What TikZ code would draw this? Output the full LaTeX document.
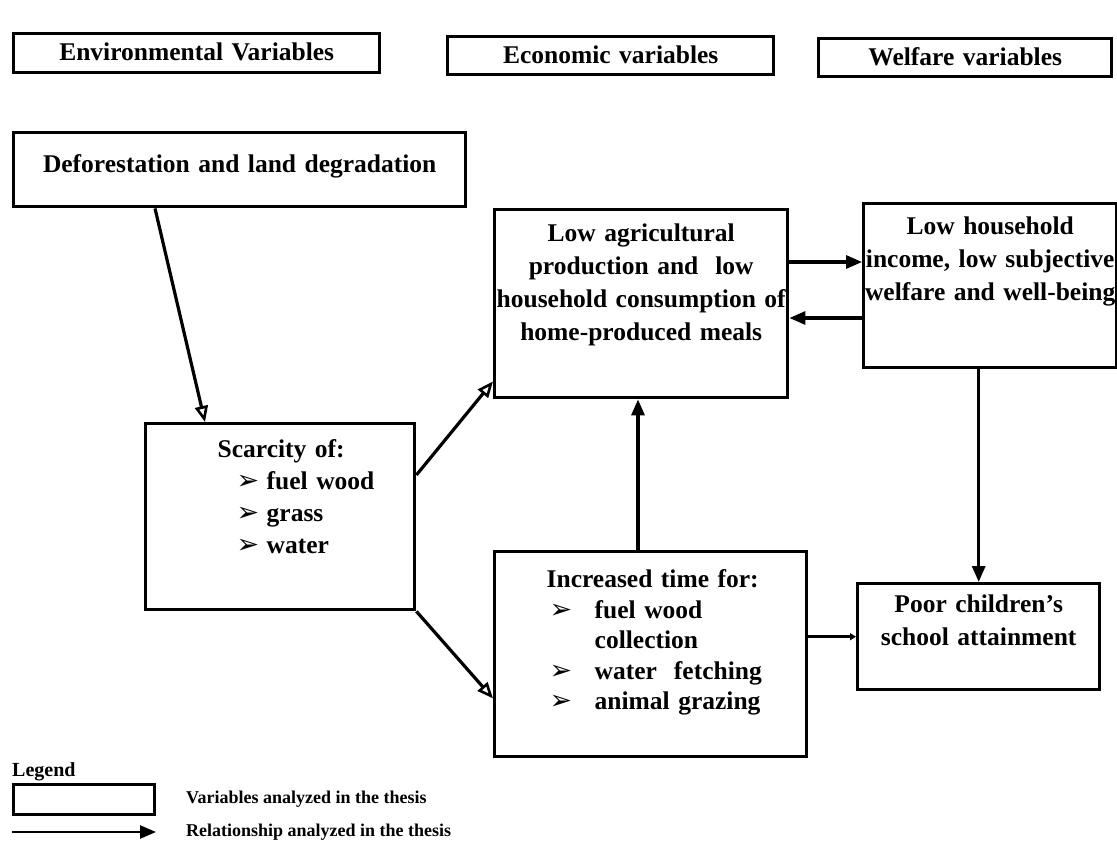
\documentclass[tikz,border=0pt]{standalone}
\usepackage{fontspec}
\setmainfont{Liberation Serif}
\newfontfamily\dingfont{DejaVu Sans}
\usepackage{tikz}
\usetikzlibrary{positioning}
\usetikzlibrary{calc}
\usetikzlibrary{arrows.meta}

\newcommand{\bul}[1]{\makebox[#1][l]{\dingfont\fontsize{27}{27}\selectfont ➢}}

\tikzset{
  box/.style={draw, line width=3.4pt, inner sep=0pt, anchor=north west, align=center,
    font=\bfseries\fontsize{25.5}{33}\selectfont},
  flow/.style={line width=3.2pt, -{Triangle[length=16pt,width=13pt]}},
  flowo/.style={line width=3.2pt, -{Triangle[open,length=16pt,width=13pt,line width=2.6pt]}},
  legtext/.style={inner sep=0pt, font=\bfseries\fontsize{18}{18}\selectfont},
}

\begin{document}
\begin{tikzpicture}[x=1pt,y=-1pt]
  \useasboundingbox (0,0) rectangle (1117,851);

  \node[box, text width=366pt, text height=27pt, text depth=12pt] (env) at (12,32) {Environmental Variables};
  \node[box, text width=326pt, text height=27pt, text depth=11pt] (econ) at (446,35) {Economic variables};
  \node[box, text width=293pt, text height=27pt, text depth=11pt] (welf) at (817,37) {Welfare variables};

  \node[box, text width=452pt, text height=40pt, text depth=34pt] (defo) at (12,131) {Deforestation and land degradation};
  \node[box, text width=293pt, text height=32pt, text depth=156pt] (lowagr) at (493,208)
    {Low agricultural\\production and\ \ low\\household consumption of\\home-produced meals};
  \node[box, text width=253pt, text height=31pt, text depth=133pt] (lowhh) at (862,202)
    {Low household\\income, low subjective\\welfare and well-being};
  \node[box, align=left, text width=269pt, text height=34pt, text depth=152pt,
    font=\bfseries\fontsize{25.5}{32}\selectfont] (scarcity) at (144,422)
    {\hspace*{72pt}Scarcity of:\\
     \hspace*{91pt}\bul{30pt}fuel wood\\
     \hspace*{91pt}\bul{30pt}grass\\
     \hspace*{91pt}\bul{30pt}water};
  \node[box, align=left, text width=312pt, text height=36pt, text depth=169pt,
    font=\bfseries\fontsize{25.5}{30.5}\selectfont] (increased) at (493,550)
    {\hspace*{52pt}Increased time for:\\
     \hspace*{55pt}\bul{45pt}fuel wood\\
     \hspace*{100pt}collection\\
     \hspace*{55pt}\bul{45pt}water\ \ fetching\\
     \hspace*{55pt}\bul{45pt}animal grazing};
  \node[box, text width=242pt, text height=29pt, text depth=77pt] (poor) at (856,582)
    {Poor children's\\school attainment};

  \draw[flowo] ($(defo.south west)+(143,0)$) -- ($(scarcity.north west)+(61,0)$);
  \draw[flowo] ($(scarcity.north east)+(0,53)$) -- ($(lowagr.south west)+(0,-18)$);
  \draw[flowo] (scarcity.south east) -- ($(increased.south west)+(0,-60)$);
  \draw[flow] ($(lowagr.north east)+(0,54)$) -- ($(lowhh.north west)+(0,60)$);
  \draw[flow] ($(lowhh.north west)+(0,116)$) -- ($(lowagr.north east)+(0,110)$);
  \draw[flow] ($(increased.north west)+(145,0)$) -- ($(lowagr.south west)+(145,0)$);
  \draw[flow] (poor.north |- lowhh.south) -- (poor.north);
  \draw[line width=3.2pt, -{Triangle[length=6pt,width=7pt]}] (increased.east |- poor.west) -- (poor.west);

  \node[inner sep=0pt, anchor=base west, font=\bfseries\fontsize{20}{20}\selectfont] (legtitle) at (12,776) {Legend};
  \node[draw, line width=3pt, minimum width=141pt, minimum height=30pt, inner sep=0pt, anchor=north west] (legbox) at (12,783) {};
  \node[legtext, anchor=west] (legboxtext) at ([xshift=30pt]legbox.east) {Variables analyzed in the thesis};
  \coordinate (legarrowstart) at ([yshift=-16pt]legbox.south west);
  \coordinate (legarrowend) at ([yshift=-16pt]legbox.south east);
  \draw[flow, line width=2.6pt] (legarrowstart) -- (legarrowend);
  \node[legtext, anchor=west] (legarrowtext) at (legboxtext.west |- legarrowend) {Relationship analyzed in the thesis};
\end{tikzpicture}
\end{document}
